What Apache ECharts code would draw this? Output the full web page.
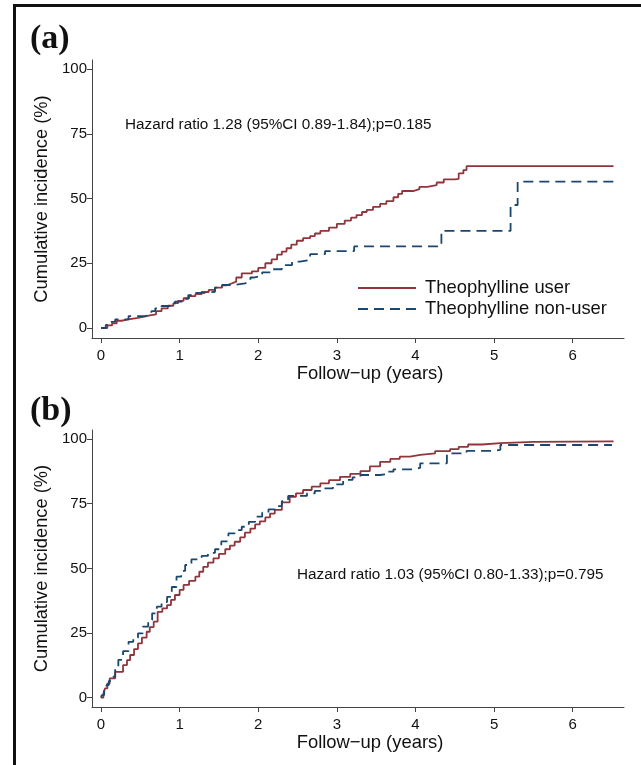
<!DOCTYPE html>
<html>
<head>
<meta charset="utf-8">
<script src="https://cdn.jsdelivr.net/npm/echarts@6/dist/echarts.min.js"></script>
<style>
  html, body { margin: 0; padding: 0; background: #fff; }
  #chart { width: 641px; height: 765px; }
</style>
</head>
<body>
<div id="chart"></div>
<script>
// tick values
var xTicks = [0, 1, 2, 3, 4, 5, 6];
var yTicks = [0, 25, 50, 75, 100];
var seriesNames = ["Theophylline user", "Theophylline non-user"];

// panel (a) - [years, cumulative incidence %]
var userA = [[0,0],[0.08,1],[0.14,1.8],[0.2,2.8],[0.26,3.3],[0.35,3.9],[0.47,4.4],[0.55,4.9],[0.62,5.3],
  [0.7,6.5],[0.77,7.6],[0.85,8.6],[0.92,9.6],[0.98,10.5],[1.05,11.5],[1.12,12.3],[1.2,13.1],[1.28,13.9],
  [1.37,14.7],[1.45,15.6],[1.54,16.5],[1.6,17.2],[1.66,17.9],[1.72,19.5],[1.79,21.1],[1.92,21.9],[2.0,23.2],
  [2.09,25.0],[2.17,26.5],[2.24,28.3],[2.3,29.5],[2.36,30.8],[2.42,32.2],[2.49,33.7],[2.57,34.7],[2.66,35.5],
  [2.72,36.5],[2.79,37.5],[2.9,38.8],[3.0,40.2],[3.1,41.5],[3.18,42.6],[3.25,43.6],[3.32,44.8],[3.38,45.6],
  [3.46,46.8],[3.55,47.9],[3.63,49.0],[3.72,50.5],[3.78,51.8],[3.83,52.9],[3.97,53.6],[4.05,54.5],[4.15,55.2],
  [4.27,56.2],[4.36,57.4],[4.5,57.6],[4.55,59.7],[4.61,61.0],[4.65,62.5],[6.52,62.5]];
var nonUserA = [[0,0],[0.06,1.2],[0.11,2.4],[0.18,3.3],[0.35,4.6],[0.56,5.3],[0.64,6.5],[0.69,7.6],[0.77,8.5],
  [0.94,10.2],[1.03,11.3],[1.11,12.7],[1.2,13.6],[1.32,14.0],[1.45,15.6],[1.54,16.6],[1.7,17.2],[1.83,17.9],
  [1.9,19.5],[1.94,20.1],[2.05,21.5],[2.17,22.7],[2.3,24.3],[2.43,25.6],[2.53,26.3],[2.66,28.5],[2.85,29.7],
  [3.22,31.5],[4.33,37.5],[5.21,47.5],[5.3,56.5],[6.52,56.5]];

// panel (b)
var userB = [[0,0],[0.03,1.5],[0.05,3.6],[0.08,5.5],[0.11,7.5],[0.18,10],[0.28,12.6],[0.33,14.5],[0.37,16.5],
  [0.42,18.8],[0.47,21],[0.52,23.2],[0.58,25.5],[0.62,27.3],[0.67,29.4],[0.72,33.2],[0.78,34.5],[0.84,35.8],
  [0.89,37.8],[0.94,39.7],[1.0,41.7],[1.05,43.6],[1.12,45.2],[1.2,46.8],[1.25,48.7],[1.3,50.6],[1.36,52.2],
  [1.43,53.9],[1.5,55.6],[1.58,57.4],[1.64,58.8],[1.7,60.3],[1.77,62],[1.83,63.8],[1.9,65.4],[1.96,67],
  [2.02,68.2],[2.09,69.7],[2.15,71.2],[2.21,72.6],[2.3,75.5],[2.4,77.7],[2.48,79],[2.57,80.3],[2.68,81.6],
  [2.79,82.9],[2.9,84.1],[3.04,85.4],[3.17,86.5],[3.3,87.6],[3.42,89.4],[3.55,91.2],[3.68,92.3],[3.8,93.2],
  [3.93,93.9],[4.06,94.5],[4.25,95.3],[4.44,96.1],[4.55,97],[4.67,97.9],[4.85,98.4],[5.08,98.9],[5.5,99.0],
  [6.0,99.1],[6.52,99.2]];
var nonUserB = [[0,0],[0.01,1],[0.04,3],[0.07,4.9],[0.1,6.5],[0.14,8.1],[0.18,11.2],[0.22,14.6],[0.28,18],
  [0.35,21.6],[0.41,23.2],[0.47,24.9],[0.53,27.5],[0.6,30],[0.65,32.6],[0.71,35.2],[0.77,37],[0.84,39],
  [0.9,42.8],[0.96,46.8],[1.02,49],[1.07,51.3],[1.15,53.5],[1.28,54.8],[1.36,56],[1.45,57.4],[1.53,60.4],
  [1.62,63.5],[1.7,64.8],[1.79,66.1],[1.88,68],[1.96,70],[2.05,71.5],[2.13,72.8],[2.21,74.1],[2.3,76],
  [2.38,78],[2.62,79],[2.72,80],[2.83,80.9],[2.95,82.5],[3.08,84.2],[3.2,85.2],[3.3,86.1],[3.55,86.4],
  [3.62,87.4],[3.72,88.3],[3.97,88.9],[4.06,90.6],[4.33,90.6],[4.4,94.5],[4.65,95.4],[4.95,95.8],[5.08,97.7],
  [6.5,97.9]];

var hrTextA = "Hazard ratio 1.28 (95%CI 0.89-1.84);p=0.185";
var hrTextB = "Hazard ratio 1.03 (95%CI 0.80-1.33);p=0.795";

var FONT = "Liberation Sans, Arial, Helvetica, sans-serif";
var RED = "#90353b", NAVY = "#1a476f", AXIS = "#444";

function xAxisCfg(idx) {
  return {
    gridIndex: idx, type: "value", min: -0.115, max: 6.653,
    name: "Follow\u2212up (years)", nameLocation: "middle", nameGap: 27,
    nameTextStyle: { fontFamily: FONT, fontSize: 18.4, color: "#111", padding: [0, 0, 0, 24] },
    axisLine: { onZero: false, lineStyle: { color: AXIS, width: 1 } },
    axisTick: { show: true, length: 5, customValues: xTicks, lineStyle: { color: AXIS } },
    axisLabel: { customValues: xTicks, fontFamily: FONT, fontSize: 15, color: "#111", margin: 10 },
    splitLine: { show: false }
  };
}
function yAxisCfg(idx, min) {
  return {
    gridIndex: idx, type: "value", min: min, max: 103.5,
    name: "Cumulative incidence (%)", nameLocation: "middle", nameGap: 41,
    nameTextStyle: { fontFamily: FONT, fontSize: 18.3, color: "#111" },
    axisLine: { show: true, onZero: false, lineStyle: { color: AXIS, width: 1 } },
    axisTick: { show: true, length: 5, customValues: yTicks, lineStyle: { color: AXIS } },
    axisLabel: { customValues: yTicks, fontFamily: FONT, fontSize: 15, color: "#111", margin: 5 },
    splitLine: { show: false }
  };
}
function line(name, data, idx, color, dashed) {
  return {
    name: name, type: "line", step: "end", data: data,
    xAxisIndex: idx, yAxisIndex: idx, symbol: "none", showSymbol: false,
    lineStyle: { color: color, width: 1.8, type: dashed ? [10, 6] : "solid" },
    itemStyle: { color: color }
  };
}

var chart = echarts.init(document.getElementById("chart"));
chart.setOption({
  animation: false,
  backgroundColor: "#fff",
  grid: [
    { left: 92, top: 60, width: 532, height: 278 },
    { left: 92, top: 430, width: 532, height: 277 }
  ],
  xAxis: [xAxisCfg(0), xAxisCfg(1)],
  yAxis: [yAxisCfg(0, -3.86), yAxisCfg(1, -3.6)],
  legend: {
    data: seriesNames, orient: "vertical", left: 357, top: 279, padding: 0,
    itemWidth: 58, itemHeight: 14, itemGap: 3,
    itemStyle: { opacity: 0 },
    textStyle: { fontFamily: FONT, fontSize: 18.4, color: "#111", padding: [0, 0, 0, 4] }
  },
  graphic: [
    { type: "rect", shape: { x: 14.5, y: 5.5, width: 700, height: 800 },
      style: { fill: "none", stroke: "#111", lineWidth: 3 } },
    { type: "text", left: 30, top: 22,
      style: { text: "(a)", font: "bold 34px 'Liberation Serif', 'Times New Roman', serif", fill: "#111" } },
    { type: "text", left: 30, top: 394,
      style: { text: "(b)", font: "bold 34px 'Liberation Serif', 'Times New Roman', serif", fill: "#111" } },
    { type: "text", left: 125, top: 117,
      style: { text: hrTextA, font: "15.3px " + FONT, fill: "#111" } },
    { type: "text", left: 297, top: 567,
      style: { text: hrTextB, font: "15.3px " + FONT, fill: "#111" } }
  ],
  series: [
    line(seriesNames[0], userA, 0, RED, false),
    line(seriesNames[1], nonUserA, 0, NAVY, true),
    line(seriesNames[0], userB, 1, RED, false),
    line(seriesNames[1], nonUserB, 1, NAVY, true)
  ]
});
</script>
</body>
</html>
